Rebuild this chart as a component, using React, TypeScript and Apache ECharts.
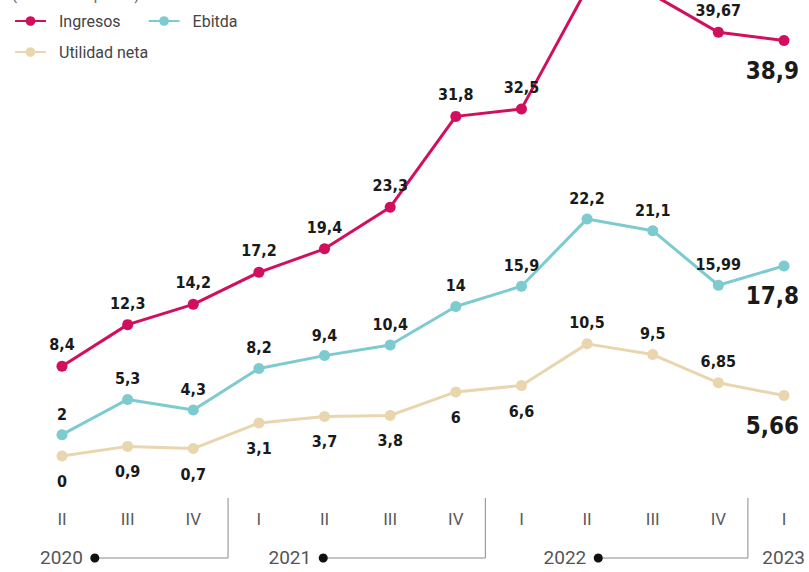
import React, { useEffect, useRef } from "react";
import * as echarts from "echarts";

const categories = ["2020-II", "2020-III", "2020-IV", "2021-I", "2021-II", "2021-III", "2021-IV", "2022-I", "2022-II", "2022-III", "2022-IV", "2023-I"];
const ingresos = [8.4, 12.3, 14.2, 17.2, 19.4, 23.3, 31.8, 32.5, 43.8, 43.2, 39.67, 38.9];
const ebitda = [2, 5.3, 4.3, 8.2, 9.4, 10.4, 14, 15.9, 22.2, 21.1, 15.99, 17.8];
const utilidad = [0, 0.9, 0.7, 3.1, 3.7, 3.8, 6, 6.6, 10.5, 9.5, 6.85, 5.66];
const utilidadAbove = [false, false, false, false, false, false, false, false, true, true, true, false];
const yearLabels = ["2020", "2021", "2022", "2023"];
const yearDots = [0.5, 3.98, 8.17];
const yearEnds = [2.53, 6.45, 10.45];
const lastYearPos = 10.67;

const C_ING = "#d20f5e";
const C_EBI = "#7ecbcf";
const C_UTI = "#e9d6ae";
const LABEL_FONT = "'DejaVu Sans Condensed', 'Liberation Sans Narrow', Roboto, sans-serif";
const TEXT_FONT = "Roboto, 'Noto Sans', sans-serif";

const fmt = (v: number) => String(v).replace(".", ",");

const OFFSET = 100;
const W = 809;
const H = 672;

function buildData(values: number[], aboveFlags: boolean[] | null, dist: number, belowDist: number) {
  return values.map((v, i) => {
    const last = i === values.length - 1;
    const above = aboveFlags ? aboveFlags[i] : true;
    if (last) {
      return {
        value: v,
        label: {
          show: true,
          position: "bottom",
          distance: 13,
          align: "right",
          offset: [15, 0],
          formatter: fmt(v),
          fontSize: 24,
          fontWeight: "bold",
          fontFamily: LABEL_FONT,
          color: "#1a1a1a",
        },
      };
    }
    return {
      value: v,
      label: {
        show: true,
        position: above ? "top" : "bottom",
        distance: above ? dist : belowDist,
        formatter: fmt(v),
      },
    };
  });
}

export default function App() {
  const ref = useRef<HTMLDivElement>(null);
  useEffect(() => {
    if (!ref.current) return;
    const chart = echarts.init(ref.current, null, { renderer: "svg" });
    const baseLabel = {
      fontSize: 16,
      fontWeight: "bold" as const,
      fontFamily: LABEL_FONT,
      color: "#1a1a1a",
    };
    const mkSeries = (name: string, data: any[], color: string) => ({
      name,
      type: "line",
      data,
      symbol: "circle",
      symbolSize: 11,
      showSymbol: true,
      lineStyle: { color, width: 3 },
      itemStyle: { color },
      label: baseLabel,
      z: 3,
    });
    const legendText = { fontFamily: TEXT_FONT, fontSize: 16, color: "#444", padding: [0, 0, 0, 8] };
    const option: any = {
      animation: false,
      backgroundColor: "#ffffff",
      legend: [
        {
          data: ["Ingresos", "Ebitda"],
          left: 14,
          top: OFFSET + 13,
          padding: 0,
          itemWidth: 31,
          itemHeight: 12,
          itemGap: 27,
          textStyle: legendText,
        },
        {
          data: ["Utilidad neta"],
          left: 14,
          top: OFFSET + 44,
          padding: 0,
          itemWidth: 31,
          itemHeight: 12,
          textStyle: legendText,
        },
      ],
      grid: { left: 62, right: 25, top: 22, bottom: H - (OFFSET + 456), containLabel: false },
      xAxis: {
        type: "category",
        data: categories,
        boundaryGap: false,
        axisLine: { show: false },
        axisTick: { show: false },
        splitLine: { show: false },
        axisLabel: {
          margin: 54,
          interval: 0,
          fontFamily: TEXT_FONT,
          fontSize: 17,
          color: "#5a5a5a",
          formatter: (v: string) => v.split("-")[1],
        },
      },
      yAxis: {
        type: "value",
        min: 0,
        max: 50,
        show: false,
        splitLine: { show: false },
      },
      series: [
        mkSeries("Ingresos", buildData(ingresos, null, 8, 8), C_ING),
        mkSeries("Ebitda", buildData(ebitda, null, 7, 7), C_EBI),
        mkSeries("Utilidad neta", buildData(utilidad, utilidadAbove, 8, 12), C_UTI),
      ],
    };
    chart.setOption(option);

    const px = (i: number) => chart.convertToPixel({ xAxisIndex: 0 }, i) as number;
    const x0 = px(0);
    const step = px(1) - x0;
    const y0 = chart.convertToPixel({ yAxisIndex: 0 }, 0) as number;
    const xi = (f: number) => x0 + step * f;
    const lineColor = "#8a8a8a";
    const els: any[] = [];
    yearDots.forEach((d, k) => {
      const dx = xi(d);
      const ex = xi(yearEnds[k]);
      els.push({
        type: "polyline",
        shape: { points: [[dx, y0 + 102], [ex, y0 + 102], [ex, y0 + 42]] },
        style: { stroke: lineColor, lineWidth: 1, fill: null },
        silent: true,
      });
      els.push({
        type: "circle",
        shape: { cx: dx, cy: y0 + 102, r: 4.5 },
        style: { fill: "#111" },
        silent: true,
      });
      els.push({
        type: "text",
        x: dx - 12,
        y: y0 + 101,
        style: {
          text: yearLabels[k],
          fontFamily: TEXT_FONT,
          fontSize: 19,
          fill: "#555",
          align: "right",
          verticalAlign: "middle",
        },
        silent: true,
      });
    });
    els.push({
      type: "text",
      x: xi(lastYearPos),
      y: y0 + 101,
      style: {
        text: yearLabels[3],
        fontFamily: TEXT_FONT,
        fontSize: 19,
        fill: "#555",
        align: "left",
        verticalAlign: "middle",
      },
      silent: true,
    });
    els.push({
      type: "text",
      x: 12,
      y: OFFSET + 2,
      style: {
        text: "(Billones de pesos)",
        fontFamily: TEXT_FONT,
        fontSize: 15,
        fill: "#666",
        align: "left",
        verticalAlign: "bottom",
      },
      silent: true,
    });
    chart.setOption({ graphic: { elements: els } });

    return () => chart.dispose();
  }, []);
  return (
    <div
      ref={ref}
      style={{ position: "fixed", left: 0, top: -OFFSET, width: W, height: H }}
    />
  );
}
